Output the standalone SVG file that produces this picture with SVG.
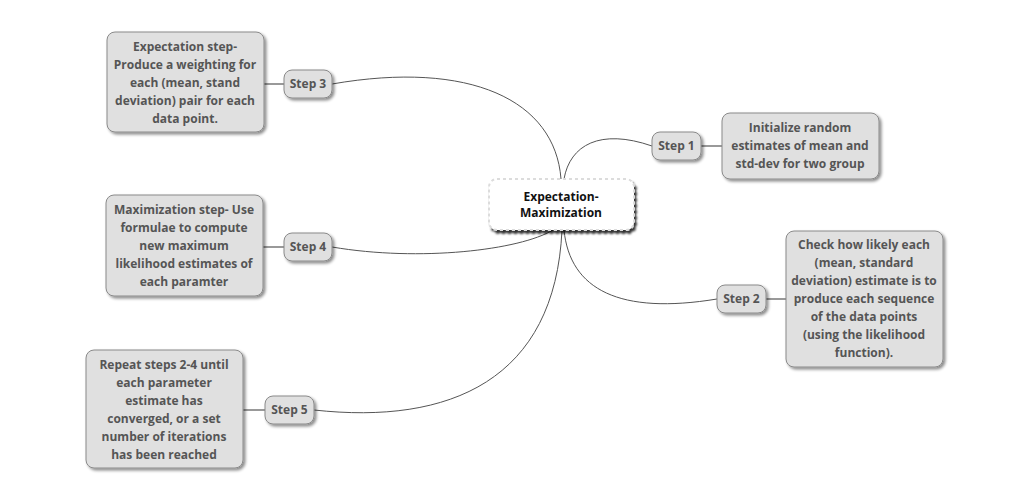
<svg xmlns="http://www.w3.org/2000/svg" width="1030" height="491" viewBox="0 0 1030 491">
<defs>
<filter id="sh" x="-20%" y="-20%" width="140%" height="140%">
<feDropShadow dx="2" dy="2" stdDeviation="1.5" flood-color="#000" flood-opacity="0.45"/>
</filter>
<filter id="rsh" x="-20%" y="-20%" width="140%" height="160%">
<feDropShadow dx="2" dy="3" stdDeviation="1.2" flood-color="#000" flood-opacity="0.8"/>
</filter>
</defs>
<style>
.box{fill:#e0e0e0;stroke:#8a8a8a;stroke-width:1;filter:url(#sh)}
.root{fill:#fff;stroke:#dcdcdc;stroke-width:2;stroke-dasharray:3 3;filter:url(#rsh)}
.t{font-family:"Open Sans","Noto Sans",sans-serif;font-weight:bold;font-size:12px;fill:#555;text-anchor:middle}
.rt{font-family:"Open Sans","Noto Sans",sans-serif;font-weight:bold;font-size:12px;fill:#111;text-anchor:middle}
.c{fill:none;stroke:#555;stroke-width:1}
.l{fill:none;stroke:#999;stroke-width:2}
</style>
<rect width="1030" height="491" fill="#fff"/>
<g id="connectors">
<path class="c" d="M332,84 C470,60 555,100 561,179"/>
<path class="c" d="M564,179 C570,145 600,128 652,146"/>
<path class="c" d="M332,247 C420,262 520,250 553,230"/>
<path class="c" d="M564,230 C570,290 620,315 717,299"/>
<path class="c" d="M314,410 C450,425 555,380 562,230"/>
<line class="l" x1="264" y1="84" x2="284" y2="84"/>
<line class="l" x1="701" y1="146" x2="722" y2="146"/>
<line class="l" x1="766" y1="299" x2="786" y2="299"/>
<line class="l" x1="263" y1="247" x2="284" y2="247"/>
<line class="l" x1="243" y1="410" x2="265" y2="410"/>
</g>
<g id="root">
<rect class="root" x="489" y="179" width="145" height="51" rx="8"/>
<text class="rt" x="561" y="201">Expectation-</text>
<text class="rt" x="561" y="217">Maximization</text>
</g>
<g id="step3">
<rect class="box" x="284" y="70" width="48" height="28" rx="8"/>
<text class="t" x="308" y="88">Step 3</text>
</g>
<g id="step3-detail">
<rect class="box" x="107" y="32" width="157" height="100" rx="8"/>
<text class="t" x="185" y="51">Expectation step-</text>
<text class="t" x="185" y="69">Produce a weighting for</text>
<text class="t" x="185" y="87">each (mean, stand</text>
<text class="t" x="185" y="105">deviation) pair for each</text>
<text class="t" x="185" y="123">data point.</text>
</g>
<g id="step1">
<rect class="box" x="652" y="132" width="49" height="28" rx="8"/>
<text class="t" x="676.5" y="150">Step 1</text>
</g>
<g id="step1-detail">
<rect class="box" x="722" y="113" width="157" height="66" rx="8"/>
<text class="t" x="800" y="132">Initialize random</text>
<text class="t" x="800" y="150">estimates of mean and</text>
<text class="t" x="800" y="168">std-dev for two group</text>
</g>
<g id="step4">
<rect class="box" x="284" y="233" width="48" height="28" rx="8"/>
<text class="t" x="308" y="251">Step 4</text>
</g>
<g id="step4-detail">
<rect class="box" x="106" y="195" width="157" height="101" rx="8"/>
<text class="t" x="184" y="214">Maximization step- Use</text>
<text class="t" x="184" y="232">formulae to compute</text>
<text class="t" x="184" y="250">new maximum</text>
<text class="t" x="184" y="268">likelihood estimates of</text>
<text class="t" x="184" y="286">each paramter</text>
</g>
<g id="step2">
<rect class="box" x="717" y="285" width="49" height="28" rx="8"/>
<text class="t" x="741.5" y="303">Step 2</text>
</g>
<g id="step2-detail">
<rect class="box" x="786" y="231" width="157" height="136" rx="8"/>
<text class="t" x="864" y="249">Check how likely each</text>
<text class="t" x="864" y="267">(mean, standard</text>
<text class="t" x="864" y="285">deviation) estimate is to</text>
<text class="t" x="864" y="303">produce each sequence</text>
<text class="t" x="864" y="321">of the data points</text>
<text class="t" x="864" y="339">(using the likelihood</text>
<text class="t" x="864" y="357">function).</text>
</g>
<g id="step5">
<rect class="box" x="265" y="396" width="49" height="28" rx="8"/>
<text class="t" x="289.5" y="414">Step 5</text>
</g>
<g id="step5-detail">
<rect class="box" x="86" y="350" width="157" height="118" rx="8"/>
<text class="t" x="164" y="369">Repeat steps 2-4 until</text>
<text class="t" x="164" y="387">each parameter</text>
<text class="t" x="164" y="405">estimate has</text>
<text class="t" x="164" y="423">converged, or a set</text>
<text class="t" x="164" y="441">number of iterations</text>
<text class="t" x="164" y="459">has been reached</text>
</g>
</svg>
